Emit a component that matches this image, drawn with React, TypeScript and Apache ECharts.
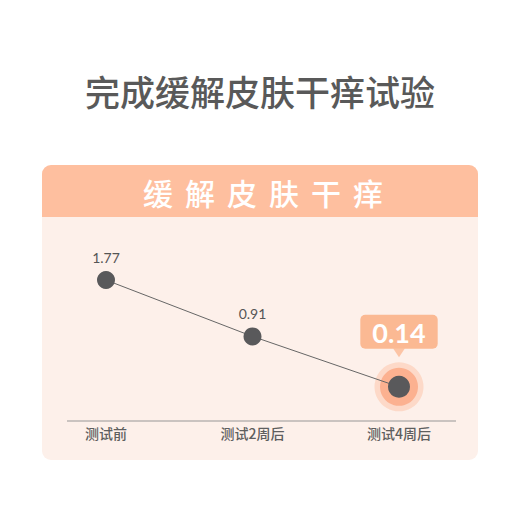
import { useEffect, useRef } from 'react'
import * as echarts from 'echarts'

const pageTitle = '完成缓解皮肤干痒试验'
const cardTitle = '缓解皮肤干痒'
const categories = ['测试前', '测试2周后', '测试4周后']
const scores = [1.77, 0.91, 0.14]
// only the last point gets the highlight rings and callout
const highlight = [null, null, 0.14]

const PEACH = '#FEBF9F'
const CARD_BG = '#FDF0EA'
const DOT = '#59595B'
const CJK = 'Noto Sans CJK SC'

export default function App() {
  const chartRef = useRef<HTMLDivElement>(null)

  useEffect(() => {
    if (!chartRef.current) return
    document.body.style.margin = '0'

    const chart = echarts.init(chartRef.current, undefined, { renderer: 'svg' })

    const headerChars = cardTitle.split('').map((ch, i) => ({
      type: 'text',
      x: 158 + i * 42,
      y: 192,
      z: 2,
      style: {
        text: ch,
        fill: '#fff',
        fontSize: 30,
        fontWeight: 500,
        fontFamily: CJK,
        align: 'center',
        verticalAlign: 'middle',
      },
    }))

    const option = {
      animation: false,
      backgroundColor: '#fff',
      graphic: [
        {
          type: 'text',
          x: 260,
          y: 90,
          style: {
            text: pageTitle,
            fill: '#595959',
            fontSize: 35,
            fontWeight: 500,
            fontFamily: CJK,
            align: 'center',
            verticalAlign: 'middle',
          },
        },
        {
          type: 'rect',
          z: 0,
          shape: { x: 42, y: 165, width: 436, height: 295, r: 9 },
          style: { fill: CARD_BG },
        },
        {
          type: 'rect',
          z: 1,
          shape: { x: 42, y: 165, width: 436, height: 52, r: [9, 9, 0, 0] },
          style: { fill: PEACH },
        },
        ...headerChars,
        {
          type: 'line',
          z: 1,
          shape: { x1: 67, y1: 421, x2: 456, y2: 421 },
          style: { stroke: '#B8B4B2', lineWidth: 1.5 },
        },
      ],
      grid: { left: 106, right: 121, top: 265, bottom: 124 },
      xAxis: {
        type: 'category',
        data: categories,
        boundaryGap: false,
        axisLine: { show: false },
        axisTick: { show: false },
        axisLabel: {
          margin: 30,
          color: '#5E5E5E',
          fontSize: 14,
          fontWeight: 500,
          fontFamily: CJK,
        },
      },
      yAxis: {
        type: 'value',
        min: 0,
        max: 2,
        show: false,
      },
      series: [
        {
          type: 'scatter',
          z: 1,
          silent: true,
          symbolSize: 49,
          itemStyle: { color: '#FDD3BF' },
          data: highlight,
        },
        {
          type: 'scatter',
          z: 1,
          silent: true,
          symbolSize: 38,
          itemStyle: { color: '#FBA682' },
          data: highlight,
        },
        {
          type: 'line',
          z: 2,
          symbol: 'circle',
          symbolSize: 18,
          lineStyle: { color: '#666', width: 1 },
          itemStyle: { color: DOT },
          label: {
            show: true,
            position: 'top',
            distance: 7,
            color: '#555',
            fontSize: 14,
            fontFamily: 'Lato',
          },
          data: scores.map((v, i) =>
            i === scores.length - 1
              ? {
                  value: v,
                  symbolSize: 22,
                  label: {
                    distance: 27,
                    color: '#fff',
                    fontSize: 27,
                    fontWeight: 'bold',
                    fontFamily: 'Lato',
                    backgroundColor: '#FBB993',
                    borderRadius: 5,
                    padding: [4, 12, 3, 12],
                  },
                }
              : v,
          ),
        },
        {
          // little pointer under the callout
          type: 'scatter',
          z: 3,
          silent: true,
          symbol: 'triangle',
          symbolRotate: 180,
          symbolSize: [12, 9],
          symbolOffset: [0, -34],
          itemStyle: { color: '#FBB993' },
          data: highlight,
        },
      ],
    }

    chart.setOption(option)

    return () => {
      chart.dispose()
    }
  }, [])

  return <div ref={chartRef} style={{ width: 520, height: 520 }} />
}
